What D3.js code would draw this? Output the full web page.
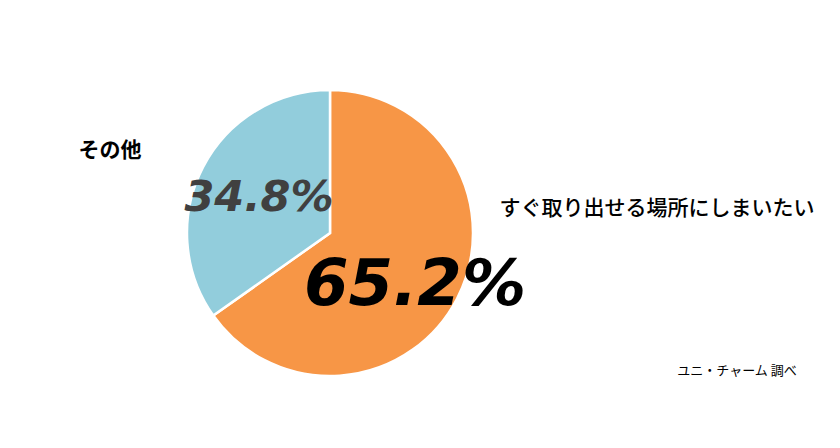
<!DOCTYPE html>
<html><head><meta charset="utf-8">
<script src="https://cdn.jsdelivr.net/npm/d3@7"></script>
<style>body{margin:0;background:#fff}svg{display:block}</style>
</head><body>
<script>
const categories = ["すぐ取り出せる場所にしまいたい", "その他"];
const values = [65.2, 34.8];
const valueLabels = ["65.2%", "34.8%"];
const colors = ["#F79646", "#92CDDC"];
const source = "ユニ・チャーム 調べ";

const W = 840, H = 448;
const svg = d3.select("body").append("svg").attr("width", W).attr("height", H);
const cx = 330, cy = 233, r = 143;
const pie = d3.pie().sort(null).value(d => d)(values);
const arc = d3.arc().innerRadius(0).outerRadius(r);
const g = svg.append("g").attr("transform", `translate(${cx},${cy})`);
g.selectAll("path").data(pie).enter().append("path")
  .attr("d", arc).attr("fill", (d, i) => colors[i])
  .attr("stroke", "#fff").attr("stroke-width", 2.5);

const jp = "'Noto Sans CJK JP', sans-serif";
const vl = [
  {x: 415, y: 305, size: 64, fill: "#000"},
  {x: 259, y: 211, size: 43, fill: "#404040"}
];
g.selectAll("text.val").data(pie).enter().append("text")
  .attr("x", (d, i) => vl[i].x - cx).attr("y", (d, i) => vl[i].y - cy)
  .attr("text-anchor", "middle")
  .attr("font-family", "'DejaVu Sans', sans-serif")
  .attr("font-weight", "bold").attr("font-style", "italic")
  .attr("font-size", (d, i) => vl[i].size)
  .attr("fill", (d, i) => vl[i].fill)
  .text((d, i) => valueLabels[i]);

const cl = [
  {x: 657, y: 215, size: 21, weight: 500},
  {x: 110, y: 157, size: 21, weight: 700}
];
svg.selectAll("text.cat").data(categories).enter().append("text")
  .attr("x", (d, i) => cl[i].x).attr("y", (d, i) => cl[i].y)
  .attr("text-anchor", "middle")
  .attr("font-family", jp).attr("font-weight", (d, i) => cl[i].weight)
  .attr("font-size", (d, i) => cl[i].size).attr("fill", "#000")
  .text(d => d);

svg.append("text").attr("x", 737).attr("y", 375).attr("text-anchor", "middle")
  .attr("font-family", jp).attr("font-size", 13).attr("fill", "#000").text(source);
</script>
</body></html>
